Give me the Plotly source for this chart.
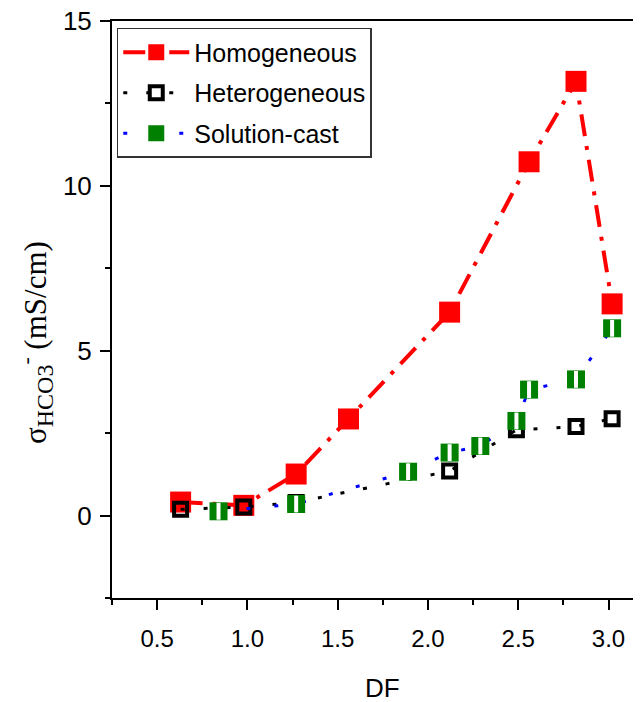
import plotly.graph_objects as go

# ---- data ----
hom_x = [0.63, 0.98, 1.27, 1.56, 2.12, 2.56, 2.82, 3.02]
hom_y = [0.41, 0.31, 1.26, 2.93, 6.17, 10.73, 13.17, 6.42]

het_x = [0.63, 0.98, 1.27, 2.12, 2.49, 2.82, 3.02]
het_y = [0.19, 0.26, 0.40, 1.35, 2.60, 2.70, 2.94]

sol_x = [0.84, 1.27, 1.89, 2.12, 2.29, 2.49, 2.56, 2.82, 3.02]
sol_y = [0.13, 0.35, 1.33, 1.91, 2.11, 2.87, 3.82, 4.13, 5.68]

x_ticks = [0.5, 1.0, 1.5, 2.0, 2.5, 3.0]
x_tick_labels = ["0.5", "1.0", "1.5", "2.0", "2.5", "3.0"]
y_ticks = [0, 5, 10, 15]
y_tick_labels = ["0", "5", "10", "15"]

SANS = "Liberation Sans, Arial, sans-serif"
SERIF = "Liberation Serif, Times New Roman, serif"

fig = go.Figure()

fig.add_trace(go.Scatter(
    x=hom_x, y=hom_y, name="Homogeneous", mode="lines+markers",
    legendgroup="a",
    line=dict(color="#ff0000", width=4, dash="22px,10px,4px,10px"),
    marker=dict(symbol="square", size=21, color="#ff0000", line=dict(width=0)),
))
fig.add_trace(go.Scatter(
    x=het_x, y=het_y, name="Heterogeneous", mode="lines+markers",
    legendgroup="b",
    line=dict(color="#000000", width=3, dash="4px,19px"),
    marker=dict(symbol="square-open", size=13, color="#000000",
                line=dict(width=4, color="#000000")),
))
fig.add_trace(go.Scatter(
    x=sol_x, y=sol_y, name="Solution-cast", mode="lines+markers",
    legendgroup="c",
    line=dict(color="#0000ff", width=3, dash="4px,24px"),
    marker=dict(symbol="square", size=18, color="#008000", line=dict(width=0)),
))
fig.add_trace(go.Scatter(
    x=sol_x, y=sol_y, name="Solution-cast", mode="markers",
    legendgroup="c", showlegend=False, hoverinfo="skip",
    marker=dict(symbol="line-ns", size=12, color="#ffffff",
                line=dict(width=4, color="#ffffff")),
))

# the page body adds an 8px offset; margins compensate so the plot area
# sits at x 112..641, y 21..598 of the window
fig.update_layout(
    width=641, height=702,
    margin=dict(l=104, r=8, t=13, b=112, pad=0, autoexpand=False),
    paper_bgcolor="white", plot_bgcolor="white",
    showlegend=True,
    legend=dict(
        x=0.009, y=0.988, xanchor="left", yanchor="top",
        bgcolor="white", bordercolor="#333333", borderwidth=1.5,
        font=dict(family=SANS, size=25, color="black"),
        itemwidth=66, tracegroupgap=5,
    ),
    font=dict(family=SANS, size=24, color="black"),
)

fig.update_xaxes(
    range=[0.25, 3.18], showgrid=False, zeroline=False, automargin=False,
    showline=True, linecolor="black", linewidth=2, mirror=True,
    tickmode="array", tickvals=x_ticks, ticktext=x_tick_labels,
    ticks="outside", ticklen=10, tickwidth=2, tickcolor="black",
    ticklabelstandoff=8, ticklabeloverflow="allow",
    tickfont=dict(family=SANS, size=24, color="black"),
    minor=dict(dtick=0.25, tick0=0.25, ticks="outside", ticklen=5,
               tickwidth=2, tickcolor="black"),
)
fig.update_yaxes(
    range=[-2.5, 15], showgrid=False, zeroline=False, automargin=False,
    showline=True, linecolor="black", linewidth=2, mirror=False,
    tickmode="array", tickvals=y_ticks, ticktext=y_tick_labels,
    ticks="outside", ticklen=10, tickwidth=2, tickcolor="black",
    ticklabelstandoff=3, ticklabeloverflow="allow",
    tickfont=dict(family=SANS, size=26, color="black"),
    minor=dict(dtick=2.5, tick0=-2.5, ticks="outside", ticklen=5,
               tickwidth=2, tickcolor="black"),
)

# axis titles
fig.add_annotation(
    text="DF", xref="paper", yref="paper",
    x=(382 - 112) / 529, y=1 - (688 - 21) / 577,
    xanchor="center", yanchor="middle", showarrow=False,
    font=dict(family=SANS, size=26, color="black"),
)
fig.add_annotation(
    text="σ<sub><span style='font-size:24px'>HCO3</span></sub><sup>-</sup> (mS/cm)",
    xref="paper", yref="paper",
    x=(36 - 112) / 529, y=1 - (343 - 21) / 577,
    xanchor="center", yanchor="middle", showarrow=False, textangle=-90,
    font=dict(family=SERIF, size=31, color="black"),
)

fig.write_html("out.html")
